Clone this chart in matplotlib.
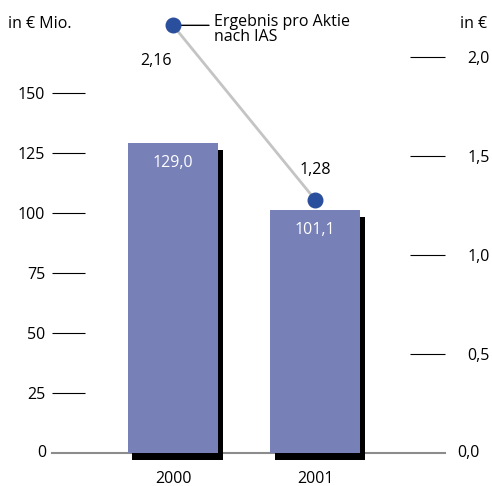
import matplotlib.pyplot as plt
from matplotlib.transforms import offset_copy

# ---------------- DATA ---------------- #
years = ["2000", "2001"]
result_mio = [129.0, 101.1]          # bars, in EUR Mio.
result_labels = ["129,0", "101,1"]
eps = [2.16, 1.28]                   # line, in EUR
eps_labels = ["2,16", "1,28"]
left_ticks = [0, 25, 50, 75, 100, 125, 150]
right_ticks = [0.0, 0.5, 1.0, 1.5, 2.0]
right_tick_labels = ["0,0", "0,5", "1,0", "1,5", "2,0"]

plt.rcParams["font.family"] = ["Open Sans", "DejaVu Sans"]
plt.rcParams["font.size"] = 11.5

bar_color = "#7880b8"
dot_color = "#2a4f9c"

fig = plt.figure(figsize=(4.92, 4.86), dpi=100)
ax = fig.add_axes([52 / 492, 33 / 486, 393 / 492, 453 / 486])
ax2 = ax.twinx()

x = list(range(len(years)))

# shadow bars (offset down-right), then the bars
shadow = offset_copy(ax.transData, fig=fig, x=4.5, y=-6.5, units="dots")
ax.bar(x, result_mio, width=0.634, color="black", transform=shadow,
       zorder=3, clip_on=False)
ax.bar(x, result_mio, width=0.634, color=bar_color, zorder=4)

ax.axhline(0, color="#8c8c8c", lw=1.5, zorder=2.8, clip_on=False)

for xi, v, lab in zip(x, result_mio, result_labels):
    ax.annotate(lab, (xi, v), xytext=(0, -20), textcoords="offset pixels",
                ha="center", va="center", color="white", zorder=5)

ax.set_xlim(-0.852, 1.915)
ax.set_ylim(0, 453 / 2.4)
ax.set_yticks(left_ticks[1:])
ax.set_yticklabels([str(t) for t in left_ticks[1:]])
ax.tick_params(axis="y", direction="in", length=23.8, width=0.8, pad=5)
ax.set_xticks(x)
ax.set_xticklabels(years)
ax.tick_params(axis="x", length=0, pad=13)
ax.text(-0.015, 0, "0", transform=ax.get_yaxis_transform(),
        ha="right", va="center")
for s in ax.spines.values():
    s.set_visible(False)

# EPS line
ax2.set_ylim(0, 453 / 198)
ax2.plot(x, eps, color="#c4c4c4", lw=2, zorder=3, clip_on=False)
ax2.scatter(x, eps, s=110, color=dot_color, zorder=5, clip_on=False)
ax2.annotate(eps_labels[0], (x[0], eps[0]), xytext=(-17, -36),
             textcoords="offset pixels", ha="center", va="center")
ax2.annotate(eps_labels[1], (x[1], eps[1]), xytext=(0, 30),
             textcoords="offset pixels", ha="center", va="center")

# legend: short connector + two-line label
ax2.annotate("", (x[0], eps[0]), xytext=(36, 0), textcoords="offset pixels",
             arrowprops=dict(arrowstyle="-", color="black", lw=1,
                             shrinkA=0, shrinkB=0))
ax2.annotate("Ergebnis pro Aktie\nnach IAS", (x[0], eps[0]), xytext=(41, 11),
             textcoords="offset pixels", ha="left", va="top",
             linespacing=0.85)

ax2.set_yticks(right_ticks[1:])
ax2.set_yticklabels(right_tick_labels[1:])
ax2.tick_params(axis="y", direction="in", length=25.2, width=0.8, pad=16)
ax2.text(1.03, 0, right_tick_labels[0], transform=ax2.get_yaxis_transform(),
         ha="left", va="center")
for s in ax2.spines.values():
    s.set_visible(False)

fig.text(8 / 492, 1 - 24 / 486, "in € Mio.", ha="left", va="center")
fig.text(460 / 492, 1 - 24 / 486, "in €", ha="left", va="center")

fig.savefig("out.png", dpi=100)
